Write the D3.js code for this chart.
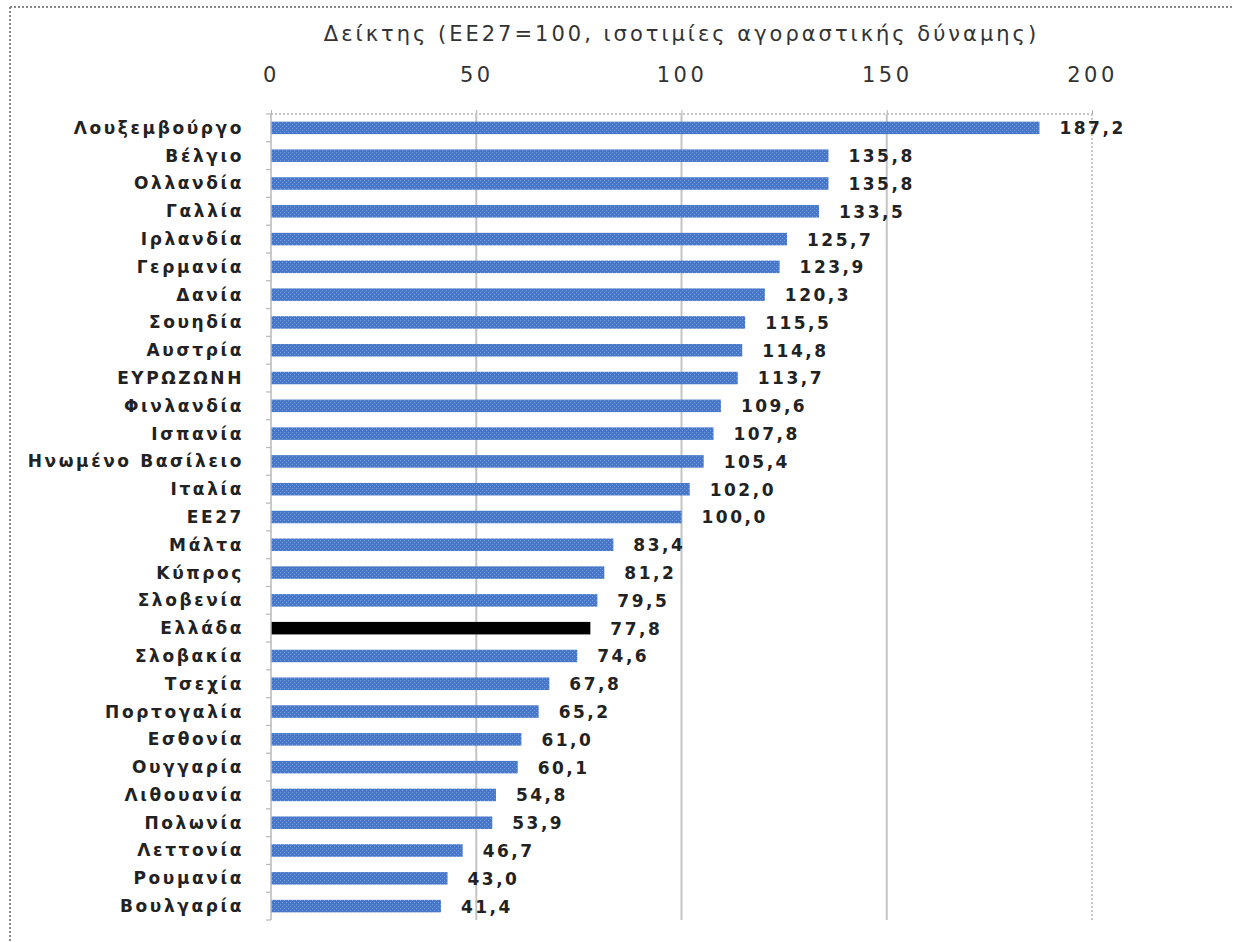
<!DOCTYPE html>
<html><head><meta charset="utf-8">
<script src="https://cdn.jsdelivr.net/npm/d3@7"></script>
<style>body{margin:0;background:#fff}</style>
</head><body>
<svg id="c" width="1234" height="942"></svg>
<script>
const categories = ["Λουξεμβούργο","Βέλγιο","Ολλανδία","Γαλλία","Ιρλανδία","Γερμανία","Δανία","Σουηδία","Αυστρία","ΕΥΡΩΖΩΝΗ","Φινλανδία","Ισπανία","Ηνωμένο Βασίλειο","Ιταλία","ΕΕ27","Μάλτα","Κύπρος","Σλοβενία","Ελλάδα","Σλοβακία","Τσεχία","Πορτογαλία","Εσθονία","Ουγγαρία","Λιθουανία","Πολωνία","Λεττονία","Ρουμανία","Βουλγαρία"];
const values = [187.2,135.8,135.8,133.5,125.7,123.9,120.3,115.5,114.8,113.7,109.6,107.8,105.4,102.0,100.0,83.4,81.2,79.5,77.8,74.6,67.8,65.2,61.0,60.1,54.8,53.9,46.7,43.0,41.4];
const tickValues = [0,50,100,150,200];
const highlight = "Ελλάδα";
const title = "Δείκτης (ΕΕ27=100, ισοτιμίες αγοραστικής δύναμης)";

(function(){
const svg = d3.select("#c");
const W = 1234, H = 942;
const pL = 271, pR = 1092, pT = 114, pB = 920;

svg.append("line").attr("x1",10).attr("x2",W).attr("y1",7).attr("y2",7)
  .attr("stroke","#888").attr("stroke-width",2).attr("stroke-dasharray","2,2");
svg.append("line").attr("x1",10).attr("x2",10).attr("y1",7).attr("y2",H)
  .attr("stroke","#888").attr("stroke-width",2).attr("stroke-dasharray","2,2");

const defs = svg.append("defs");
const pat = defs.append("pattern").attr("id","blue").attr("patternUnits","userSpaceOnUse")
  .attr("width",4).attr("height",4);
pat.append("rect").attr("width",4).attr("height",4).attr("fill","#4677c8");
pat.append("rect").attr("x",0).attr("y",0).attr("width",1).attr("height",1).attr("fill","#7aa0e0");
pat.append("rect").attr("x",2).attr("y",2).attr("width",1).attr("height",1).attr("fill","#7aa0e0");

const x = d3.scaleLinear().domain([0,200]).range([pL,pR]);
const y = d3.scaleBand().domain(categories).range([pT,pB]).paddingInner(0.55).paddingOuter(0.275);
const yb = d3.scaleBand().domain(categories).range([pT,pB]);

svg.append("line").attr("x1",pL).attr("x2",pR).attr("y1",pT).attr("y2",pT)
  .attr("stroke","#c8c8c8").attr("stroke-width",2).attr("stroke-dasharray","2,2");

tickValues.forEach(t=>{
  if(t===0) return;
  const g = svg.append("line").attr("x1",x(t)).attr("x2",x(t)).attr("y1",pT).attr("y2",pB)
    .attr("stroke", t===200 ? "#c8c8c8" : "#c4c4c4").attr("stroke-width",2);
  if(t===200) g.attr("stroke-dasharray","2,2");
});

const xAxis = d3.axisTop(x).tickValues(tickValues).tickSize(4).tickFormat(d3.format("d"));
const ga = svg.append("g").attr("transform",`translate(0,${pT})`).call(xAxis);
ga.select(".domain").remove();
ga.selectAll(".tick line").attr("stroke","#b0b0b0");
ga.selectAll(".tick text").attr("y",-32).attr("fill","#333")
  .attr("font-family","'DejaVu Sans', sans-serif").attr("font-size",21).attr("letter-spacing",3.5);

svg.append("text").attr("x",(pL+pR)/2).attr("y",41).attr("text-anchor","middle")
  .attr("font-family","'DejaVu Sans', sans-serif").attr("font-size",21).attr("letter-spacing",3)
  .attr("fill","#333").text(title);

svg.selectAll("rect.bar").data(categories).join("rect").attr("class","bar")
  .attr("x",x(0)).attr("y",d=>y(d)).attr("height",y.bandwidth())
  .attr("width",(d,i)=>x(values[i])-x(0))
  .attr("fill",d=> d===highlight ? "#000" : "url(#blue)");

svg.append("line").attr("x1",pL).attr("x2",pL).attr("y1",pT).attr("y2",pB)
  .attr("stroke","#b8b8b8").attr("stroke-width",1.5);
categories.forEach(c=>{
  svg.append("line").attr("x1",pL-5).attr("x2",pL).attr("y1",yb(c)).attr("y2",yb(c))
    .attr("stroke","#b8b8b8").attr("stroke-width",1.2);
});
svg.append("line").attr("x1",pL-5).attr("x2",pL).attr("y1",pB).attr("y2",pB)
  .attr("stroke","#b8b8b8").attr("stroke-width",1.2);

svg.selectAll("text.cat").data(categories).join("text").attr("class","cat")
  .attr("x",244).attr("y",d=>y(d)+y.bandwidth()/2).attr("dy","0.35em")
  .attr("text-anchor","end").attr("font-family","'DejaVu Sans', sans-serif")
  .attr("font-weight","bold").attr("font-size",17).attr("letter-spacing",2.6)
  .attr("fill","#222").text(d=>d);

const fmt = v => d3.format(".1f")(v).replace(".",",");
svg.selectAll("text.val").data(categories).join("text").attr("class","val")
  .attr("x",(d,i)=>x(values[i])+20).attr("y",d=>y(d)+y.bandwidth()/2).attr("dy","0.38em")
  .attr("font-family","'DejaVu Sans', sans-serif").attr("font-weight","bold")
  .attr("font-size",17).attr("letter-spacing",2.5).attr("fill","#222")
  .text((d,i)=>fmt(values[i]));
})();
</script>
</body></html>
